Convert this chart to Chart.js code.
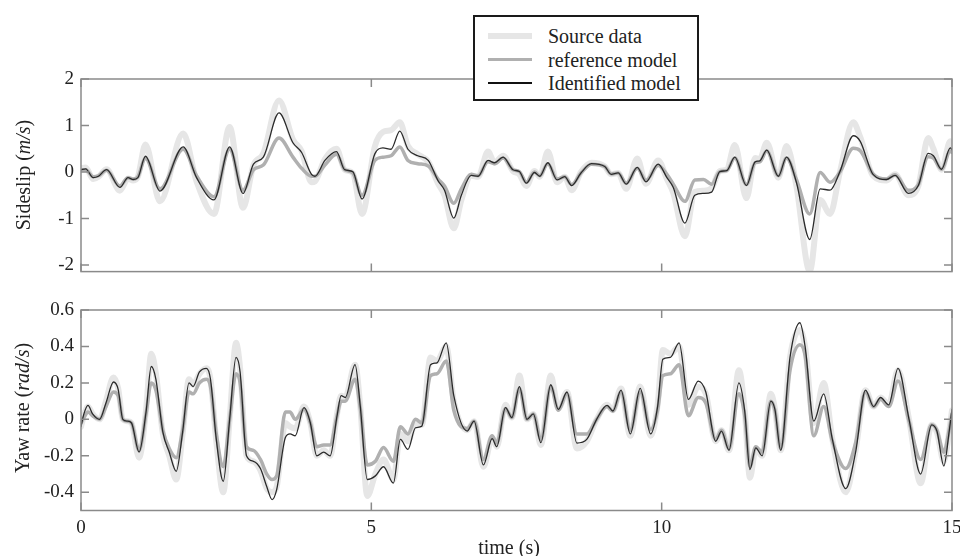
<!DOCTYPE html>
<html>
<head>
<meta charset="utf-8">
<script src="https://cdn.jsdelivr.net/npm/chart.js@4.4.1/dist/chart.umd.min.js"></script>
<style>
  html, body { margin: 0; padding: 0; background: #fff; }
  #page { position: relative; width: 960px; height: 556px; overflow: hidden; font-family: "Liberation Serif", serif; color: #222; }
  .plot { position: absolute; left: 0; width: 960px; }
  .ytitle { position: absolute; font-size: 20px; white-space: nowrap; transform: translate(-50%, -50%) rotate(-90deg); }
  #xtitle { position: absolute; left: 509px; top: 547px; font-size: 20px; transform: translate(-50%, -50%); white-space: nowrap; }
  #legend { position: absolute; left: 473px; top: 15px; width: 222px; height: 82px; border: 2px solid #1a1a1a; background: #fff; z-index: 5; }
  #legend .row { position: absolute; left: 0; height: 24px; font-size: 20px; line-height: 24px; }
  #legend .swatch { position: absolute; left: 13px; width: 44px; top: 50%; }
  #legend .lbl { position: absolute; left: 73px; white-space: nowrap; }
</style>
</head>
<body>
<div id="page">
  <div class="plot" style="top:0;height:290px"><canvas id="slipChart"></canvas></div>
  <div class="plot" style="top:290px;height:266px"><canvas id="yawChart"></canvas></div>
  <div class="ytitle" style="left:23px;top:175px">Sideslip (<i>m/s</i>)</div>
  <div class="ytitle" style="left:22px;top:408px">Yaw rate (<i>rad/s</i>)</div>
  <div id="xtitle">time (s)</div>
  <div id="legend"></div>
</div>
<script>
// ----- data -----
const seriesNames = ['Source data', 'reference model', 'Identified model'];
const seriesColors = ['#e6e6e6', '#b0b0b0', '#2a2a2a'];
const seriesWidths = [6, 3.5, 1.3];

const xTicks = [0, 5, 10, 15];
const slipTicks = [-2, -1, 0, 1, 2];
const yawTicks = [-0.4, -0.2, 0, 0.2, 0.4, 0.6];

// sideslip (m/s)
const slipTime = [0.00, 0.08, 0.21, 0.30, 0.44, 0.67, 0.81, 0.90, 0.98, 1.11, 1.36, 1.76, 1.99, 2.29, 2.56, 2.79, 2.97, 3.14, 3.41, 3.65,
  3.80, 3.97, 4.03, 4.20, 4.40, 4.54, 4.68, 4.84, 5.06, 5.20, 5.34, 5.49, 5.63, 5.80, 5.98, 6.15, 6.26, 6.42, 6.55, 6.72,
  6.84, 7.01, 7.12, 7.27, 7.44, 7.55, 7.67, 7.81, 7.90, 8.04, 8.20, 8.33, 8.45, 8.61, 8.79, 9.02, 9.13, 9.25, 9.39, 9.58,
  9.73, 9.94, 10.09, 10.20, 10.40, 10.57, 10.72, 10.86, 11.00, 11.12, 11.26, 11.46, 11.61, 11.69, 11.81, 12.01, 12.15, 12.32, 12.55, 12.73,
  12.90, 13.07, 13.30, 13.42, 13.64, 13.87, 14.02, 14.25, 14.42, 14.59, 14.68, 14.82, 14.97, 15.00];
const slipIdent = [0.05, 0.07, -0.12, -0.09, 0.05, -0.33, -0.12, -0.16, -0.12, 0.34, -0.41, 0.54, -0.12, -0.60, 0.54, -0.46, 0.17, 0.32, 1.27, 0.63,
  0.42, -0.05, -0.09, 0.25, 0.44, 0.05, 0.01, -0.58, 0.39, 0.52, 0.49, 0.88, 0.49, 0.35, 0.25, -0.19, -0.39, -0.99, -0.50, -0.07,
  -0.09, 0.25, 0.20, 0.32, 0.05, 0.01, -0.24, -0.01, -0.09, 0.20, -0.17, -0.10, -0.29, -0.02, 0.18, 0.12, -0.05, -0.02, -0.26, 0.10,
  -0.21, 0.17, -0.12, -0.33, -1.10, -0.50, -0.46, -0.43, 0.01, 0.03, 0.32, -0.29, 0.22, 0.24, 0.47, -0.09, 0.32, -0.22, -1.45, -0.36,
  -0.39, 0.01, 0.78, 0.66, -0.05, -0.16, -0.07, -0.46, -0.29, 0.40, 0.35, 0.06, 0.52, 0.48];
const slipRef = [0.05, 0.05, -0.10, -0.08, 0.04, -0.30, -0.12, -0.15, -0.10, 0.29, -0.36, 0.49, -0.08, -0.53, 0.49, -0.39, 0.05, 0.15, 0.73, 0.32,
  0.08, -0.09, -0.09, 0.15, 0.38, 0.05, -0.02, -0.50, 0.25, 0.32, 0.35, 0.54, 0.25, 0.18, 0.13, -0.15, -0.30, -0.67, -0.36, -0.05,
  -0.08, 0.22, 0.18, 0.30, 0.05, 0.01, -0.22, 0.00, -0.08, 0.18, -0.15, -0.10, -0.27, -0.02, 0.17, 0.12, -0.04, -0.02, -0.24, 0.08,
  -0.18, 0.14, -0.05, -0.26, -0.63, -0.17, -0.16, -0.26, 0.01, 0.03, 0.30, -0.27, 0.20, 0.22, 0.45, -0.08, 0.30, -0.16, -0.90, -0.01,
  -0.22, 0.00, 0.51, 0.46, -0.04, -0.15, -0.06, -0.39, -0.27, 0.33, 0.30, 0.06, 0.45, 0.42];
const slipSource = [0.08, 0.10, -0.15, -0.10, 0.06, -0.40, -0.14, -0.18, -0.10, 0.59, -0.63, 0.83, -0.20, -0.90, 0.97, -0.77, 0.15, 0.40, 1.54, 0.70,
  0.45, -0.22, -0.20, 0.28, 0.50, 0.05, -0.02, -0.90, 0.55, 0.86, 0.90, 1.07, 0.56, 0.38, 0.22, -0.25, -0.50, -1.21, -0.60, -0.08,
  -0.10, 0.44, 0.20, 0.35, 0.02, -0.05, -0.30, 0.02, -0.10, 0.44, -0.22, -0.10, -0.39, 0.00, 0.20, 0.12, -0.05, -0.02, -0.36, 0.29,
  -0.25, 0.25, -0.15, -0.45, -1.38, -0.43, -0.40, -0.35, 0.02, 0.05, 0.58, -0.56, 0.30, 0.28, 0.63, -0.12, 0.56, -0.30, -2.13, -0.60,
  -0.90, 0.00, 1.07, 0.75, -0.08, -0.18, -0.05, -0.50, -0.30, 0.73, 0.50, 0.05, 0.66, 0.60];

// yaw rate (rad/s)
const yawTime = [0.00, 0.05, 0.12, 0.20, 0.32, 0.43, 0.56, 0.64, 0.72, 0.80, 0.87, 1.00, 1.12, 1.21, 1.29, 1.41, 1.52, 1.64, 1.75, 1.86,
  1.93, 2.04, 2.16, 2.23, 2.33, 2.45, 2.56, 2.67, 2.74, 2.85, 2.97, 3.09, 3.20, 3.29, 3.37, 3.52, 3.60, 3.69, 3.84, 3.95,
  4.06, 4.18, 4.29, 4.41, 4.48, 4.55, 4.72, 4.81, 4.93, 5.07, 5.21, 5.38, 5.50, 5.63, 5.76, 5.87, 6.02, 6.13, 6.29, 6.42,
  6.65, 6.77, 6.93, 7.08, 7.16, 7.31, 7.42, 7.55, 7.68, 7.79, 7.92, 8.09, 8.22, 8.37, 8.54, 8.71, 8.88, 9.06, 9.16, 9.30,
  9.46, 9.63, 9.81, 9.93, 10.02, 10.15, 10.30, 10.46, 10.63, 10.76, 10.93, 11.03, 11.16, 11.33, 11.43, 11.52, 11.62, 11.73, 11.88, 11.95,
  12.05, 12.21, 12.38, 12.47, 12.62, 12.79, 12.94, 13.17, 13.34, 13.51, 13.65, 13.77, 13.91, 14.07, 14.26, 14.46, 14.65, 14.74, 14.86, 14.95, 15.00];
const yawIdent = [-0.04, 0.03, 0.077, 0.03, 0.00, 0.09, 0.205, 0.165, 0.00, -0.01, -0.02, -0.18, 0.04, 0.29, 0.22, -0.07, -0.18, -0.285, -0.07, 0.20,
  0.18, 0.26, 0.28, 0.22, -0.11, -0.34, 0.00, 0.34, 0.26, -0.20, -0.23, -0.27, -0.37, -0.44, -0.385, -0.10, -0.08, -0.09, 0.064, -0.02,
  -0.20, -0.18, -0.20, 0.02, 0.13, 0.12, 0.30, 0.07, -0.33, -0.31, -0.26, -0.35, -0.11, -0.165, -0.046, -0.037, 0.30, 0.31, 0.42, 0.13,
  -0.064, -0.01, -0.25, -0.106, -0.15, 0.064, 0.01, 0.18, 0.00, 0.03, -0.128, 0.19, 0.055, 0.15, -0.13, -0.11, 0.00, 0.077, 0.046, 0.16,
  -0.08, 0.17, -0.08, 0.07, 0.33, 0.34, 0.42, 0.11, 0.21, 0.15, -0.12, -0.064, -0.17, 0.20, 0.046, -0.275, -0.156, -0.20, 0.10, 0.055,
  -0.17, 0.34, 0.53, 0.40, -0.01, 0.14, -0.11, -0.38, -0.18, 0.16, 0.07, 0.12, 0.08, 0.28, 0.00, -0.30, -0.03, -0.064, -0.256, -0.07, 0.055];
const yawRef = [-0.02, 0.01, 0.04, 0.02, 0.00, 0.07, 0.15, 0.13, 0.00, -0.01, -0.02, -0.17, 0.03, 0.20, 0.16, -0.06, -0.16, -0.21, -0.06, 0.15,
  0.14, 0.20, 0.22, 0.18, -0.08, -0.26, 0.00, 0.25, 0.20, -0.15, -0.17, -0.22, -0.30, -0.33, -0.31, 0.04, 0.04, 0.00, 0.055, -0.02,
  -0.15, -0.14, -0.14, 0.02, 0.10, 0.10, 0.22, 0.06, -0.25, -0.23, -0.155, -0.23, -0.04, -0.08, 0.00, -0.02, 0.24, 0.25, 0.32, 0.05,
  -0.05, -0.01, -0.22, -0.09, -0.13, 0.06, 0.01, 0.17, 0.00, 0.03, -0.11, 0.18, 0.05, 0.14, -0.08, -0.08, 0.00, 0.07, 0.045, 0.15,
  -0.06, 0.15, -0.055, 0.05, 0.24, 0.25, 0.30, 0.02, 0.12, 0.09, -0.11, -0.06, -0.16, 0.14, 0.02, -0.26, -0.15, -0.18, 0.10, 0.05,
  -0.16, 0.27, 0.41, 0.35, -0.09, 0.07, -0.12, -0.27, -0.13, 0.15, 0.07, 0.11, 0.07, 0.21, -0.01, -0.22, -0.03, -0.06, -0.18, -0.06, 0.03];
const yawSource = [-0.04, 0.02, 0.07, 0.03, 0.00, 0.10, 0.23, 0.17, 0.00, -0.01, -0.02, -0.21, 0.05, 0.36, 0.25, -0.08, -0.20, -0.33, -0.08, 0.22,
  0.19, 0.25, 0.28, 0.22, -0.12, -0.40, 0.00, 0.42, 0.28, -0.20, -0.23, -0.28, -0.38, -0.40, -0.37, -0.02, -0.04, -0.05, 0.07, -0.02,
  -0.20, -0.17, -0.20, 0.03, 0.13, 0.12, 0.30, 0.07, -0.42, -0.30, -0.22, -0.33, -0.08, -0.12, -0.02, -0.03, 0.34, 0.32, 0.40, 0.10,
  -0.06, -0.01, -0.26, -0.10, -0.15, 0.08, 0.01, 0.24, 0.00, 0.03, -0.14, 0.24, 0.06, 0.15, -0.16, -0.12, 0.00, 0.08, 0.05, 0.17,
  -0.09, 0.18, -0.09, 0.08, 0.38, 0.36, 0.40, 0.08, 0.18, 0.14, -0.12, -0.06, -0.17, 0.27, 0.05, -0.32, -0.16, -0.20, 0.14, 0.06,
  -0.17, 0.34, 0.49, 0.40, -0.02, 0.20, -0.11, -0.40, -0.17, 0.16, 0.07, 0.12, 0.08, 0.27, 0.00, -0.35, -0.03, -0.07, -0.23, -0.07, 0.05];

const FONT = '"Liberation Serif", "Times New Roman", serif';
const FRAME = '#8a8a8a';

// box around the plot area with inward tick marks on all four sides
const framePlugin = {
  id: 'frame',
  afterDraw(chart) {
    const { ctx, chartArea: a, scales } = chart;
    const len = 8;
    ctx.save();
    ctx.strokeStyle = FRAME;
    ctx.lineWidth = 1.5;
    ctx.strokeRect(a.left, a.top, a.right - a.left, a.bottom - a.top);
    ctx.beginPath();
    scales.x.ticks.forEach(t => {
      const px = scales.x.getPixelForValue(t.value);
      ctx.moveTo(px, a.bottom); ctx.lineTo(px, a.bottom - len);
      ctx.moveTo(px, a.top); ctx.lineTo(px, a.top + len);
    });
    scales.y.ticks.forEach(t => {
      const py = scales.y.getPixelForValue(t.value);
      ctx.moveTo(a.left, py); ctx.lineTo(a.left + len, py);
      ctx.moveTo(a.right, py); ctx.lineTo(a.right - len, py);
    });
    ctx.stroke();
    ctx.restore();
  }
};

function makeDatasets(time, lists) {
  // first dataset is drawn on top, so the thin identified line goes first
  return [2, 1, 0].map(i => ({
    label: seriesNames[i],
    data: time.map((t, k) => ({ x: t, y: lists[i][k] })),
    borderColor: seriesColors[i],
    borderWidth: seriesWidths[i],
    pointRadius: 0,
    fill: false,
    cubicInterpolationMode: 'monotone',
    borderJoinStyle: 'round',
    borderCapStyle: 'round'
  }));
}

function makeChart(id, time, lists, yMin, yMax, yTicks, opts) {
  return new Chart(document.getElementById(id), {
    type: 'line',
    data: { datasets: makeDatasets(time, lists) },
    options: {
      responsive: true, maintainAspectRatio: false, animation: false,
      layout: { padding: { top: opts.padTop, right: 8, left: 0, bottom: 0 } },
      plugins: { legend: { display: false }, tooltip: { enabled: false } },
      scales: {
        x: {
          type: 'linear', min: 0, max: 15,
          afterBuildTicks: s => { s.ticks = xTicks.map(v => ({ value: v })); },
          afterFit: s => { s.height = opts.xHeight; s.paddingLeft = 0; s.paddingRight = 0; },
          grid: { display: false, drawTicks: false },
          border: { display: false },
          ticks: { display: opts.xLabels, padding: 6, color: '#222', font: { family: FONT, size: 19 }, maxRotation: 0 }
        },
        y: {
          min: yMin, max: yMax,
          afterBuildTicks: s => { s.ticks = yTicks.map(v => ({ value: v })); },
          afterFit: s => { s.width = 81; },
          grid: { display: false, drawTicks: false },
          border: { display: false },
          ticks: { padding: 7, color: '#222', font: { family: FONT, size: 19 }, callback: v => String(v) }
        }
      }
    },
    plugins: [framePlugin]
  });
}

makeChart('slipChart', slipTime, [slipSource, slipRef, slipIdent], -2.14, 2, slipTicks,
  { padTop: 79, xHeight: 10, xLabels: false });
makeChart('yawChart', yawTime, [yawSource, yawRef, yawIdent], -0.5, 0.6, yawTicks,
  { padTop: 20, xHeight: 45.5, xLabels: true });

// legend box
const legend = document.getElementById('legend');
seriesNames.forEach((name, i) => {
  const row = document.createElement('div');
  row.className = 'row';
  row.style.top = (7 + i * 23.5) + 'px';
  row.style.width = '100%';
  row.innerHTML = `<div class="swatch" style="height:${seriesWidths[i] < 2 ? 2 : seriesWidths[i]}px;margin-top:-${(seriesWidths[i] < 2 ? 2 : seriesWidths[i]) / 2}px;background:${i === 2 ? '#111' : seriesColors[i]}"></div><span class="lbl">${name}</span>`;
  legend.appendChild(row);
});
</script>
</body>
</html>
